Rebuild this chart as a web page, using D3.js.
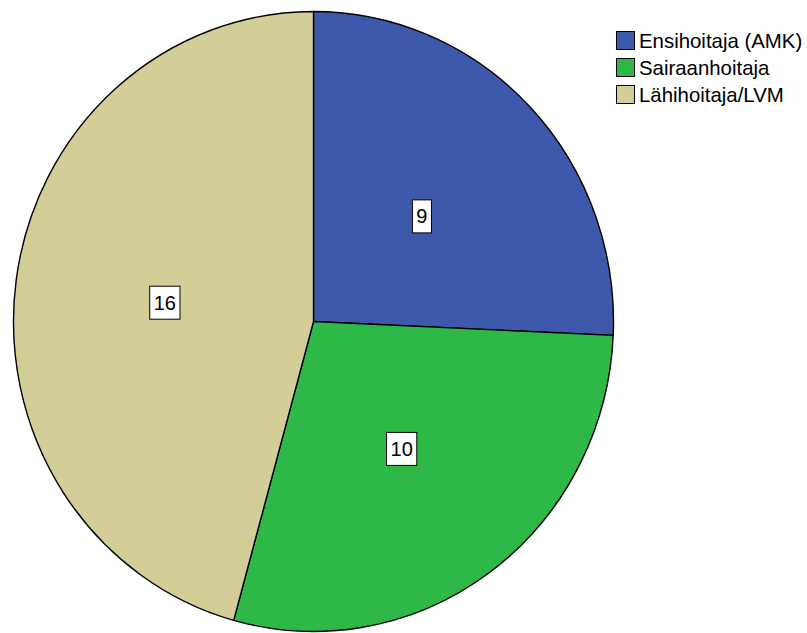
<!DOCTYPE html>
<html>
<head>
<meta charset="utf-8">
<script src="https://cdn.jsdelivr.net/npm/d3@7"></script>
<style>
  html, body { margin: 0; padding: 0; background: #fff; }
  svg { display: block; font-family: "Liberation Sans", Arial, sans-serif; }
</style>
</head>
<body>
<svg id="chart" width="807" height="633"></svg>
<script>
// Ammattiryhmät ja lukumäärät
const categories = ["Ensihoitaja (AMK)", "Sairaanhoitaja", "Lähihoitaja/LVM"];
const counts = [9, 10, 16];
const colors = ["#3e58ac", "#2eb848", "#d3ce97"];

const svg = d3.select("#chart");
const cx = 313.5, cy = 321.5, rx = 300, ry = 310;

const pie = d3.pie().sort(null).value(d => d.value);
const arcs = pie(categories.map((c, i) => ({ name: c, value: counts[i] })));

// Elliptical pie: draw a circular arc, then stretch vertically
const arc = d3.arc().innerRadius(0).outerRadius(rx);
const g = svg.append("g").attr("transform", `translate(${cx},${cy}) scale(1,${ry / rx})`);

g.selectAll("path.slice")
  .data(arcs)
  .enter().append("path")
  .attr("class", "slice")
  .attr("d", arc)
  .attr("fill", (d, i) => colors[i])
  .attr("stroke", "#000")
  .attr("stroke-width", 1.4)
  .attr("vector-effect", "non-scaling-stroke")
  .attr("stroke-linejoin", "round");

// Value labels in boxes
const labelArc = d3.arc().innerRadius(rx * 0.5).outerRadius(rx * 0.5);
const lg = svg.append("g");
arcs.forEach((d, i) => {
  const [lx, ly] = labelArc.centroid(d);
  const x = cx + lx, y = cy + ly * (ry / rx) + 2;
  const t = lg.append("text")
    .attr("x", x).attr("y", y)
    .attr("text-anchor", "middle")
    .attr("dominant-baseline", "central")
    .attr("font-size", 20)
    .attr("fill", "#000")
    .text(d.value);
  const bb = t.node().getBBox();
  lg.insert("rect", "text")
    .attr("x", x - bb.width / 2 - 4)
    .attr("y", y - 16.5)
    .attr("width", bb.width + 8)
    .attr("height", 33)
    .attr("fill", "#fff")
    .attr("stroke", "#000")
    .attr("stroke-width", 1);
});

// Legend
const legend = svg.append("g").attr("transform", "translate(616,31)");
categories.forEach((c, i) => {
  const row = legend.append("g").attr("transform", `translate(0,${i * 27})`);
  row.append("rect")
    .attr("x", 0.5).attr("y", 0.5)
    .attr("width", 18).attr("height", 18)
    .attr("fill", colors[i])
    .attr("stroke", "#000")
    .attr("stroke-width", 1);
  row.append("text")
    .attr("x", 23).attr("y", 9.5)
    .attr("dominant-baseline", "central")
    .attr("font-size", 20.4)
    .attr("fill", "#000")
    .text(c);
});
</script>
</body>
</html>
